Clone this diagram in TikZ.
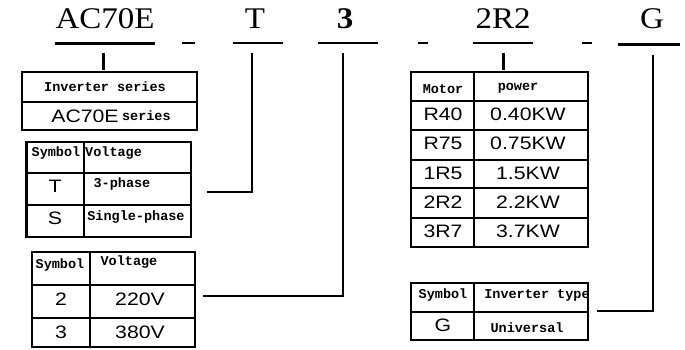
\documentclass[tikz,border=0pt]{standalone}
\usepackage{fontspec}
\setmainfont[FakeStretch=1.1]{Liberation Serif}
\newfontfamily\arialf[FakeStretch=1.18]{Liberation Sans}
\newfontfamily\courf{Liberation Mono}
\usetikzlibrary{calc,positioning}
\tikzstyle{code}  = [font=\fontsize{30}{30}\selectfont, inner sep=0pt, anchor=base]
\tikzstyle{cell}  = [font=\arialf\fontsize{18}{18}\selectfont, inner sep=0pt]
\tikzstyle{small} = [font=\courf\bfseries\fontsize{13.5}{13.5}\selectfont, inner sep=0pt]
\tikzstyle{grid}  = [line width=1.5pt]
\tikzstyle{bar}   = [line width=3pt]
\tikzstyle{link}  = [line width=2pt]

\begin{document}
\begin{tikzpicture}[x=1pt,y=-1pt]
        \useasboundingbox (0,0) rectangle (685,349);

        % code letters
        \node[code] (series) at (105,28) {AC70E};
        \node[code] (phase) at (255,28) {T};
        \node[code,font=\bfseries\fontsize{30}{30}\selectfont] (volt) at (345,28) {3};
        \node[code] (power) at (503,28) {2R2};
        \node[code] (kind) at (652,28) {G};

        \draw[bar] (55,43) -- (155,43);
        \draw[link] (233,43) -- (283,43);
        \draw[link] (318,43) -- (378,43);
        \draw[link] (473,43) -- (533,43);
        \draw[bar] (618,44) -- (680,44);
        \draw[grid] (182,43) -- (195,43);
        \draw[grid] (418,43) -- (428,43);
        \draw[grid] (582,43) -- (592,43);

        % series box
        \draw[grid] (22,72) rectangle (197,130);
        \draw[grid] (22,102) -- (197,102);
        \node[small] (sHead) at (105,87) {Inverter series};
        \node[cell] (sName) at (85,116) {AC70E};
        \node[small, right=3pt of sName] (sWord) {series};

        % phase table
        \draw[grid] (26,142) rectangle (191,237);
        \draw[bar] (26,142) -- (26,237);
        \draw[grid] (84,142) -- (84,237);
        \draw[grid] (26,173) -- (191,173);
        \draw[grid] (26,205) -- (191,205);
        \node[small] (pSym) at (56,153) {Symbol};
        \node[small, anchor=west] (pVolt) at (85,153) {Voltage};
        \node[cell] (pT) at (55,186) {T};
        \node[small] (pTxt) at (122,184) {3-phase};
        \node[cell] (pS) at (55,218) {S};
        \node[small] (pSxt) at (136,217) {Single-phase};

        % voltage table
        \draw[grid] (32,252) rectangle (195,347);
        \draw[grid] (90,252) -- (90,347);
        \draw[grid] (32,285) -- (195,285);
        \draw[grid] (32,318) -- (195,318);
        \node[small] (vSym) at (60,265) {Symbol};
        \node[small] (vVolt) at (129,262) {Voltage};
        \node[cell] (v2) at (61,299) {2};
        \node[cell] (v2x) at (140,299) {220V};
        \node[cell] (v3) at (61,332) {3};
        \node[cell] (v3x) at (140,332) {380V};

        % power table
        \draw[grid] (411,72) rectangle (588,247);
        \draw[grid] (474,72) -- (474,247);
        \foreach \y in {101,130,160,188,218}
            \draw[grid] (411,\y) -- (588,\y);
        \node[small] (mHead) at (443,89) {Motor};
        \node[small] (wHead) at (518,88) {power};
        \foreach \y/\m/\p [count=\i] in {114/R40/0.40KW, 143/R75/0.75KW, 173/1R5/1.5KW, 202/2R2/2.2KW, 231/3R7/3.7KW}
        {
            \node[cell] (m\i) at (443,\y) {\m};
            \node[cell] (w\i) at (528,\y) {\p};
        }

        % type table
        \draw[grid] (411,283) rectangle (588,340);
        \draw[grid] (474,283) -- (474,340);
        \draw[grid] (411,312) -- (588,312);
        \node[small] (kSym) at (443,295) {Symbol};
        \node[small] (kHead) at (537,295) {Inverter type};
        \node[cell] (kG) at (443,325) {G};
        \node[small] (kTxt) at (527,328) {Universal};

        % connectors
        \coordinate (seriesTop) at (103,53);
        \coordinate (seriesEnd) at (103,70);
        \coordinate (powerTop) at (503,53);
        \coordinate (powerEnd) at (503,70);
        \coordinate (phaseTop) at (252,53);
        \coordinate (phaseEnd) at (207,192);
        \coordinate (voltTop) at (343,53);
        \coordinate (voltEnd) at (203,296);
        \coordinate (kindTop) at (653,55);
        \coordinate (kindEnd) at (597,311);
        \draw[bar] (seriesTop) -- (seriesEnd);
        \draw[bar] (powerTop) -- (powerEnd);
        \draw[link] (phaseTop) |- (phaseEnd);
        \draw[link] (voltTop) |- (voltEnd);
        \draw[link] (kindTop) |- (kindEnd);
    \end{tikzpicture}
\end{document}
